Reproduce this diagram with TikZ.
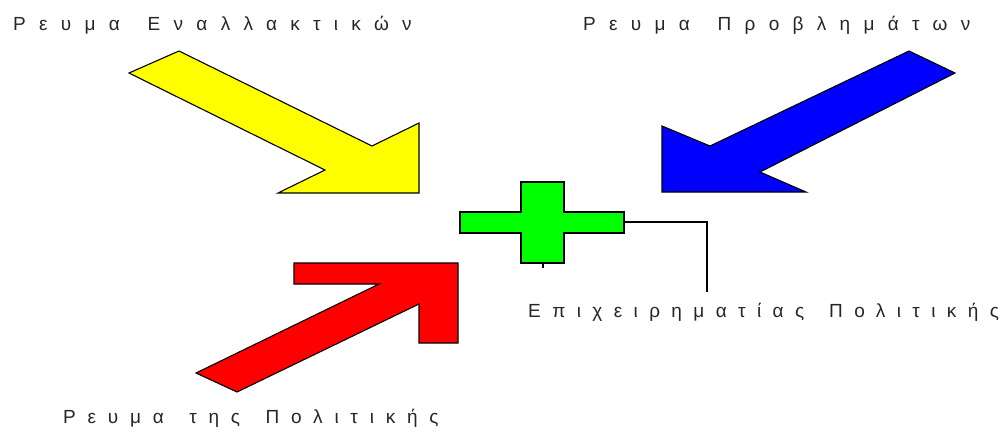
\documentclass[tikz,border=0pt]{standalone}
\usepackage{fontspec}
\setmainfont{Liberation Sans}
\newfontfamily\spacedfont[WordSpace=1.5]{Liberation Sans}
\usetikzlibrary{positioning}

\definecolor{streamyellow}{RGB}{255,255,0}
\definecolor{streamblue}{RGB}{0,0,255}
\definecolor{streamred}{RGB}{255,0,0}
\definecolor{crossgreen}{RGB}{0,255,0}

\begin{document}
\begin{tikzpicture}[
    x=1pt, y=-1pt,                    % <── one unit per pixel, y downwards
    stream_arrow/.style={draw=black, line width=1.1pt, line join=miter},
    stream_label/.style={anchor=base west, inner sep=0pt, text=black!85,
                         font=\spacedfont\addfontfeatures{LetterSpace=#1}\fontsize{19}{22}\selectfont},
    stream_label/.default=70,
    link_line/.style={draw=black, line width=1.1pt}
    ]
    \useasboundingbox (0,0) rectangle (1005,432);

    % Labels
    \node[stream_label] (alt) at (13,30) {Ρευμα Εναλλακτικών};
    \node[stream_label] (prob) at (583,30) {Ρευμα Προβλημάτων};
    \node[stream_label=62] (pol) at (63,423) {Ρευμα της Πολιτικής};
    \node[stream_label=60] (entre) at (528,317) {Επιχειρηματίας Πολιτικής};

    % Arrows (yellow, blue, red)
    \filldraw[stream_arrow, fill=streamyellow]
        (129,73) -- (179,51) -- (372,146) -- (419,123) -- (419,193)
        -- (278,193) -- (325,170) -- cycle;
    \filldraw[stream_arrow, fill=streamblue]
        (909,51) -- (955,73) -- (760,172) -- (806,192) -- (662,192)
        -- (662,126) -- (710,146) -- cycle;
    \filldraw[stream_arrow, fill=streamred]
        (196,373) -- (379,284) -- (294,284) -- (294,263) -- (458,263)
        -- (458,343) -- (419,343) -- (419,304) -- (237,392) -- cycle;

    % Cross
    \filldraw[stream_arrow, fill=crossgreen]
        (521,182) -- (564,182) -- (564,212) -- (624,212) -- (624,233)
        -- (564,233) -- (564,263) -- (521,263) -- (521,233) -- (460,233)
        -- (460,212) -- (521,212) -- cycle;
    \coordinate (crossright) at (624,222);
    \coordinate (crossfoot) at (543,263);
    \coordinate (footend) at (543,268);
    \coordinate (linkend) at (707,292);

    % Connector to the label
    \draw[link_line] (crossright) -| (linkend);
    \draw[link_line] (crossfoot) -- (footend);
\end{tikzpicture}
\end{document}
